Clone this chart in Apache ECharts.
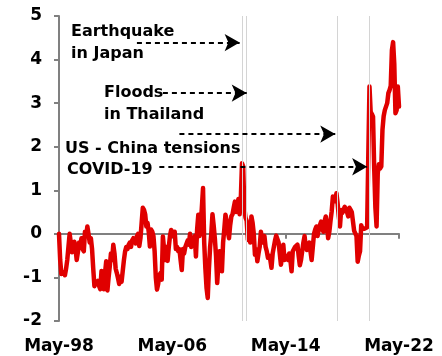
<!DOCTYPE html>
<html>
<head>
<meta charset="utf-8">
<script src="https://cdn.jsdelivr.net/npm/echarts@6/dist/echarts.min.js"></script>
<style>
  html, body { margin: 0; padding: 0; background: #fff; }
  #chart { width: 442px; height: 356px; }
</style>
</head>
<body>
<div id="chart"></div>
<script>
// Monthly index in standard deviations, May-98 to May-22
const values = [
  0.0, -0.6, -0.92, -0.95, -0.88, -0.95, -0.8, -0.6, -0.3, 0.0, -0.2, -0.42,
  -0.3, -0.18, -0.35, -0.6, -0.42, -0.2, -0.28, -0.1, -0.35, -0.4, 0.05, -0.05,
  0.17, 0.0, -0.2, -0.1, -0.35, -0.8, -1.2, -1.1, -1.15, -1.08, -1.2, -1.27,
  -0.85, -1.1, -1.27, -0.9, -0.63, -1.3, -1.0, -0.75, -0.45, -0.6, -0.25, -0.45,
  -0.8, -0.9, -1.02, -1.15, -0.98, -1.1, -1.13, -0.6, -0.4, -0.3, -0.35, -0.25,
  -0.2, -0.3, -0.15, -0.1, -0.15, -0.22, -0.05, 0.0, -0.28, -0.1, 0.25, 0.6,
  0.55, 0.45, 0.17, 0.25, 0.05, -0.29, 0.1, 0.05, -0.05, -0.4, -1.0, -1.28,
  -1.15, -0.95, -0.9, -1.05, -0.06, -0.35, -0.6, -0.3, -0.62, -0.3, -0.05, 0.09,
  0.05, -0.05, 0.05, -0.35, -0.3, -0.4, -0.35, -0.6, -0.83, -0.35, -0.45, -0.3,
  -0.3, -0.15, -0.25, 0.0, -0.3, -0.2, -0.1, -0.05, -0.52, 0.1, 0.44, -0.05,
  0.2, 0.6, 1.05, -0.2, -0.8, -1.25, -1.47, -0.8, -0.3, 0.0, 0.45, 0.2,
  -0.1, -0.5, -1.13, -0.7, -0.4, -0.6, -0.86, -0.2, 0.1, 0.44, 0.3, 0.05,
  -0.1, 0.2, 0.4, 0.45, 0.6, 0.74, 0.5, 0.65, 0.8, 0.45, 0.8, 1.62,
  1.55, 0.6, 0.37, 0.3, -0.14, 0.1, -0.2, 0.4, 0.25, 0.0, -0.48, -0.35,
  -0.63, -0.45, -0.3, 0.05, -0.1, -0.2, -0.05, -0.3, -0.4, -0.55, -0.5, -0.6,
  -0.78, -0.45, -0.3, -0.15, -0.04, 0.0, -0.2, -0.45, -0.71, -0.5, -0.25, -0.6,
  -0.5, -0.55, -0.6, -0.45, -0.6, -0.86, -0.4, -0.35, -0.3, -0.3, -0.25, -0.5,
  -0.72, -0.6, -0.4, -0.2, -0.05, -0.3, -0.37, -0.25, -0.2, -0.4, -0.6, -0.3,
  0.0, 0.1, 0.17, -0.05, 0.1, 0.2, 0.28, 0.1, 0.05, 0.3, 0.4, 0.2,
  -0.1, 0.05, 0.3, 0.52, 0.86, 0.8, 0.75, 0.93, 0.7, 0.4, 0.17, 0.55,
  0.48, 0.5, 0.62, 0.55, 0.5, 0.4, 0.6, 0.55, 0.5, 0.51, 0.07, 0.1,
  -0.05, -0.64, -0.5, -0.4, 0.2, 0.12, 0.15, 0.12, 0.12, 0.15, 1.8, 3.38,
  2.8, 2.75, 2.69, 1.5, 0.6, 0.17, 1.39, 1.6, 1.5, 1.55, 2.39, 2.7,
  2.84, 2.85, 3.0, 3.23, 3.3, 3.4, 4.22, 4.4, 3.9, 2.77, 2.84, 3.38,
  2.92
];

// Month labels, starting May 1998
const monthNames = ['Jan','Feb','Mar','Apr','May','Jun','Jul','Aug','Sep','Oct','Nov','Dec'];
const months = values.map(function (_, i) {
  const m = 4 + i;
  const year = 1998 + Math.floor(m / 12);
  return monthNames[m % 12] + '-' + String(year % 100).padStart(2, '0');
});

const yTicks = [-2, -1, 0, 1, 2, 3, 4, 5];

// Events: vertical markers, and the dashed arrow that points at each one
const eventMonths = ['Apr-11', 'Aug-11', 'Jan-18', 'Apr-20'];
const arrowStart = ['Nov-03', 'Sep-05', 'Nov-06', 'Jun-05'];
const arrowEnd = ['Feb-11', 'Aug-11', 'Nov-17', 'Feb-20'];
const arrowLevel = [4.39, 3.23, 2.29, 1.54];

const FONT = 'DejaVu Sans';

const chart = echarts.init(document.getElementById('chart'), null, { renderer: 'canvas' });

function note(text, x, y) {
  return {
    type: 'text', left: x, top: y,
    style: { text: text, font: 'bold 16px "' + FONT + '"', fill: '#000' }
  };
}

chart.setOption({
  animation: false,
  backgroundColor: '#fff',
  grid: { left: 59, right: 43, top: 16, bottom: 35 },
  xAxis: [
    {
      type: 'category', data: months, boundaryGap: false, position: 'bottom',
      axisLine: { show: false, onZero: false },
      axisTick: { show: false },
      splitLine: { show: false },
      axisLabel: {
        interval: 95, margin: 17, color: '#000',
        fontFamily: FONT, fontWeight: 'bold', fontSize: 17
      }
    },
    {
      type: 'category', data: months, boundaryGap: false, position: 'bottom',
      axisLine: { show: true, onZero: true, lineStyle: { color: '#808080', width: 2 } },
      axisTick: { show: true, interval: 95, length: 5, lineStyle: { color: '#808080', width: 2 } },
      axisLabel: { show: false },
      splitLine: { show: false }
    }
  ],
  yAxis: {
    type: 'value', min: yTicks[0], max: yTicks[yTicks.length - 1], interval: 1,
    axisLine: { show: true, lineStyle: { color: '#808080', width: 2 } },
    axisTick: { show: true, length: 5, lineStyle: { color: '#808080', width: 2 } },
    splitLine: { show: false },
    axisLabel: { margin: 17, color: '#000', fontFamily: FONT, fontWeight: 'bold', fontSize: 17 }
  },
  series: [
    {
      // event markers and annotation arrows
      type: 'line', data: [], xAxisIndex: 0, z: 1, silent: true,
      markLine: {
        silent: true,
        animation: false,
        symbol: ['none', 'none'],
        label: { show: false },
        data: eventMonths.map(function (m) {
          return { xAxis: m, lineStyle: { color: '#d4d4d4', width: 1, type: 'solid' } };
        }).concat(arrowStart.map(function (s, i) {
          return [
            { coord: [s, arrowLevel[i]], symbol: 'none' },
            { coord: [arrowEnd[i], arrowLevel[i]], symbol: 'arrow', symbolSize: [13, 15] }
          ];
        })),
        lineStyle: { color: '#000', width: 2, type: [5, 4] }
      }
    },
    {
      type: 'line', data: values, xAxisIndex: 0, z: 3,
      showSymbol: false, symbol: 'none',
      lineStyle: { color: '#E00000', width: 4.5, join: 'round', cap: 'round' }
    }
  ],
  graphic: [
    {
      type: 'text', left: 20, top: -16,
      style: { text: 'Standard deviations', font: '18px "' + FONT + '"', fill: '#000' }
    },
    note('Earthquake', 71, 24),
    note('in Japan', 71, 46),
    note('Floods', 104, 85),
    note('in Thailand', 104, 107),
    note('US - China tensions', 65, 141),
    note('COVID-19', 67, 162)
  ]
});
</script>
</body>
</html>
